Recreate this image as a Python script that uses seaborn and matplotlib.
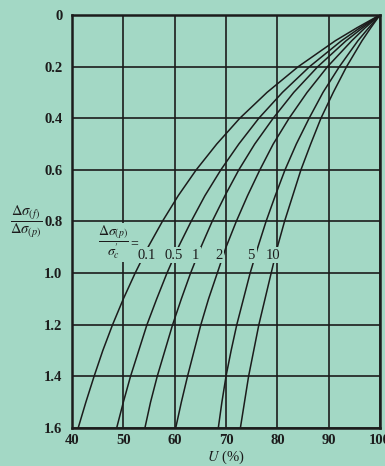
import numpy as np
import pandas as pd
import matplotlib
matplotlib.use("Agg")
import matplotlib.pyplot as plt
import seaborn as sns

# Values (U in % at each stress ratio level)
stress_ratio = [0.0, 0.05, 0.1, 0.2, 0.3, 0.4, 0.5, 0.6, 0.7, 0.8,
                0.9, 1.0, 1.1, 1.2, 1.3, 1.4, 1.5, 1.6]
u_p01 = [100, 95.5, 91.3, 84.1, 78.0, 72.7, 68.2, 64.2, 60.7, 57.6,
         54.8, 52.3, 50.0, 47.9, 46.0, 44.3, 42.7, 41.2]
u_p05 = [100, 96.1, 92.5, 86.3, 81.0, 76.4, 72.5, 69.0, 65.9, 63.2,
         60.7, 58.5, 56.5, 54.6, 53.0, 51.4, 50.0, 48.7]
u_p1 = [100, 96.6, 93.4, 87.9, 83.2, 79.2, 75.6, 72.5, 69.8, 67.3,
        65.1, 63.1, 61.3, 59.6, 58.1, 56.6, 55.3, 54.2]
u_p2 = [100, 97.1, 94.5, 89.8, 85.8, 82.3, 79.2, 76.6, 74.2, 72.0,
        70.0, 68.3, 66.6, 65.1, 63.8, 62.5, 61.3, 60.2]
u_p5 = [100, 97.8, 95.7, 92.1, 88.9, 86.2, 83.7, 81.5, 79.6, 77.8,
        76.2, 74.7, 73.4, 72.1, 71.0, 70.0, 69.2, 68.5]
u_p10 = [100, 98.2, 96.5, 93.5, 90.9, 88.5, 86.5, 84.6, 83.0, 81.4,
         80.0, 78.8, 77.6, 76.4, 75.4, 74.4, 73.6, 72.8]

curve_names = ["0.1", "0.5", "1", "2", "5", "10"]
curve_values = [u_p01, u_p05, u_p1, u_p2, u_p5, u_p10]
# label positions on the curves (U, stress ratio)
label_u = [54.6, 59.9, 64.0, 68.6, 74.9, 79.2]
label_y = [0.93, 0.93, 0.93, 0.93, 0.93, 0.93]

x_ticks = [40, 50, 60, 70, 80, 90, 100]
y_ticks = [0, 0.2, 0.4, 0.6, 0.8, 1.0, 1.2, 1.4, 1.6]
y_tick_labels = ["0", "0.2", "0.4", "0.6", "0.8", "1.0", "1.2", "1.4", "1.6"]

BG = "#a3d8c5"
INK = "#1c1c1c"

rows = []
for name, vals in zip(curve_names, curve_values):
    for s, u in zip(stress_ratio, vals):
        rows.append({"U": u, "ratio": s, "p": name})
df = pd.DataFrame(rows)

sns.set_theme(style="white", rc={"axes.facecolor": BG, "figure.facecolor": BG})
plt.rcParams["font.family"] = ["Liberation Serif", "DejaVu Serif"]
plt.rcParams["mathtext.fontset"] = "stix"

fig = plt.figure(figsize=(3.85, 4.66), dpi=100)
ax = fig.add_axes([0.187, 0.0815, 0.80, 0.8865])

sns.lineplot(data=df, x="U", y="ratio", hue="p", hue_order=curve_names,
             palette=[INK] * 6, linewidth=1.1, legend=False, ax=ax,
             estimator=None, sort=False)

ax.set_xlim(40, 100)
ax.set_ylim(1.6, 0)
ax.set_xticks(x_ticks)
ax.set_yticks(y_ticks)
ax.set_yticklabels(y_tick_labels)
ax.tick_params(length=0, labelsize=10.5, colors=INK)
ax.tick_params(axis="y", pad=7)
ax.tick_params(axis="x", pad=4)
for lab in ax.get_xticklabels() + ax.get_yticklabels():
    lab.set_fontweight("bold")
ax.grid(True, color=INK, linewidth=1.2)
for sp in ax.spines.values():
    sp.set_color(INK)
    sp.set_linewidth(1.8)
ax.set_xlabel("")
ax.set_ylabel("")

for name, u, y in zip(curve_names, label_u, label_y):
    ax.text(u, y, name, ha="center", va="center", fontsize=10.5, color=INK,
            zorder=5, bbox=dict(boxstyle="square,pad=0.12", fc=BG, ec="none"))

# parameter label, Δσ(p)/σ'c =
ax.text(48.0, 0.88, r"$\dfrac{\Delta\sigma_{(p)}}{\sigma^{\prime}_{c}}$", ha="center",
        va="center", fontsize=10, color=INK, zorder=5,
        bbox=dict(boxstyle="square,pad=0.05", fc=BG, ec="none"))
ax.text(52.2, 0.885, "=", ha="center", va="center", fontsize=10, color=INK,
        zorder=5)

ax.text(-0.148, 0.499, r"$\dfrac{\Delta\sigma_{(f)}}{\Delta\sigma_{(p)}}$",
        transform=ax.transAxes, ha="center", va="center", fontsize=10.5, color=INK)

ax.text(0.5, -0.072, r"$U$ (%)", transform=ax.transAxes, ha="center",
        va="center", fontsize=10.5, color=INK)

fig.savefig("out.png", dpi=100, facecolor=BG)
